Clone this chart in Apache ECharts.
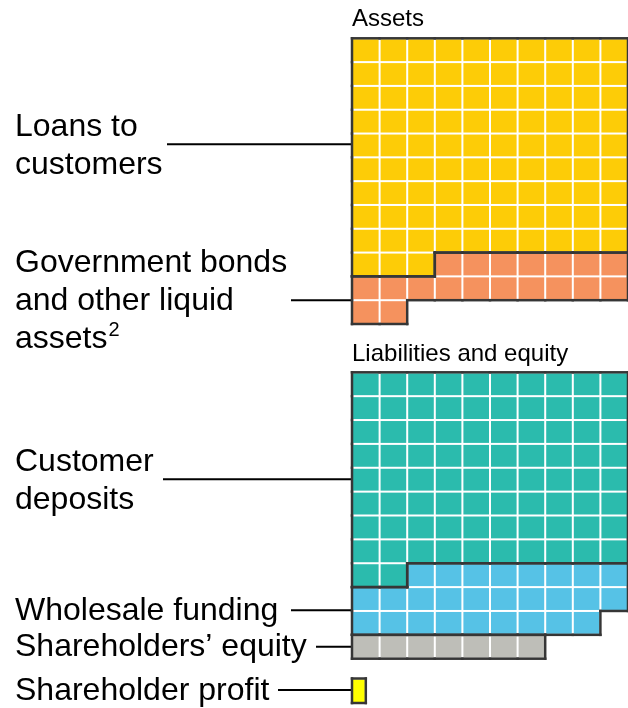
<!DOCTYPE html>
<html>
<head>
<meta charset="utf-8">
<script src="https://cdn.jsdelivr.net/npm/echarts@6/dist/echarts.min.js"></script>
<style>
  html, body { margin: 0; padding: 0; background: #fff; }
  #chart { width: 628px; height: 708px; }
</style>
</head>
<body>
<div id="chart"></div>
<script>
// one cell = one unit, grid is 10 cells wide
const columns = 10
const assetLabels = ['Loans to\ncustomers', 'Government bonds\nand other liquid\nassets{s|2}']
const assetCells = [93, 19]
const fundingLabels = ['Customer\ndeposits', 'Wholesale funding']
const fundingCells = [82, 27]
const equityLabels = ['Shareholders’ equity']
const equityCells = [7]
const profitLabels = ['Shareholder profit']
const profitCells = [0.5]

const assetColors = ['#fdcc07', '#f5925e']
const liabColors = ['#2bbbad', '#56c2e6', '#bebeb8']
const profitColors = ['#ffff00']

const FONT = '"Liberation Sans", Arial, sans-serif'
const EDGE = '#363636'

// fill cells row by row, starting from index `start`
function layoutCells(counts, groupOffset, start) {
  const out = []
  let idx = start
  counts.forEach((n, g) => {
    let left = n
    while (left > 0) {
      const w = Math.min(1, left)
      out.push([idx % columns, Math.floor(idx / columns), g + groupOffset, w])
      idx++
      left -= 1
    }
  })
  return out
}

const assetData = layoutCells(assetCells, 0, 0)
const fundingTotal = fundingCells.reduce((a, b) => a + b, 0)
const liabData = layoutCells(fundingCells, 0, 0)
  .concat(layoutCells(equityCells, fundingCells.length, Math.ceil(fundingTotal / columns) * columns))
const profitData = layoutCells(profitCells, 0, 0)

function cellSeries(data, colors, gridIndex) {
  const owner = {}
  data.forEach((d) => { owner[d[0] + ',' + d[1]] = d[2] })
  const same = (c, r, g) => owner[c + ',' + r] === g

  return {
    type: 'custom',
    coordinateSystem: 'cartesian2d',
    xAxisIndex: gridIndex,
    yAxisIndex: gridIndex,
    silent: true,
    encode: { x: 0, y: 1 },
    data: data,
    renderItem: (params, api) => {
      const col = api.value(0)
      const row = api.value(1)
      const g = api.value(2)
      const w = api.value(3)
      const p0 = api.coord([col, row])
      const p1 = api.coord([col + w, row + 1])
      const x0 = p0[0], y0 = p0[1], x1 = p1[0], y1 = p1[1]
      const children = [{
        type: 'rect',
        shape: { x: x0 + 1, y: y0 + 1, width: x1 - x0 - 2, height: y1 - y0 - 2 },
        style: { fill: colors[g] }
      }]
      const edge = (ax, ay, bx, by) => children.push({
        type: 'line',
        z2: 10,
        shape: { x1: ax, y1: ay, x2: bx, y2: by },
        style: { stroke: EDGE, lineWidth: 2.5, lineCap: 'square' }
      })
      if (!same(col, row - 1, g)) edge(x0, y0, x1, y0)
      if (!same(col, row + 1, g) || w < 1) edge(x0, y1, x1, y1)
      if (!same(col - 1, row, g)) edge(x0, y0, x0, y1)
      if (!same(col + 1, row, g) || w < 1) edge(x1, y0, x1, y1)
      return { type: 'group', children: children }
    }
  }
}

function label(text, y) {
  return {
    type: 'text', x: 15, y: y,
    style: {
      text: text, font: '32px ' + FONT, fill: '#000', lineHeight: 38, verticalAlign: 'middle',
      rich: {
        s: { fontSize: 20, fontFamily: FONT, fill: '#000', lineHeight: 38, verticalAlign: 'top', padding: [0, 0, 14, 1] }
      }
    }
  }
}
function leader(x, y) {
  return {
    type: 'line',
    shape: { x1: x, y1: y, x2: 352, y2: y },
    style: { stroke: '#000', lineWidth: 2 }
  }
}
function title(text, y) {
  return {
    type: 'text', x: 352, y: y,
    style: { text: text, font: '24px ' + FONT, fill: '#000', verticalAlign: 'middle' }
  }
}

const chart = echarts.init(document.getElementById('chart'))

chart.setOption({
  animation: false,
  backgroundColor: '#fff',
  grid: [
    { left: 352, top: 38.3, width: 279.5, height: 285.7 },
    { left: 352, top: 372.3, width: 279.5, height: 286.4 },
    { left: 352, top: 678.5, width: 279.5, height: 24.5 }
  ],
  xAxis: [0, 1, 2].map((i) => ({ type: 'value', gridIndex: i, min: 0, max: columns, show: false })),
  yAxis: [
    { type: 'value', gridIndex: 0, min: 0, max: 12, inverse: true, show: false },
    { type: 'value', gridIndex: 1, min: 0, max: 12, inverse: true, show: false },
    { type: 'value', gridIndex: 2, min: 0, max: 1, inverse: true, show: false }
  ],
  series: [
    cellSeries(assetData, assetColors, 0),
    cellSeries(liabData, liabColors, 1),
    cellSeries(profitData, profitColors, 2)
  ],
  graphic: [
    title('Assets', 19.5),
    title('Liabilities and equity', 354),
    leader(167, 144.3), label(assetLabels[0], 146),
    leader(291, 300.3), label(assetLabels[1], 301),
    leader(163, 479.3), label(fundingLabels[0], 481),
    leader(291, 610.3), label(fundingLabels[1], 611),
    leader(316, 646.7), label(equityLabels[0], 647.5),
    leader(278, 690), label(profitLabels[0], 691.5)
  ]
})
</script>
</body>
</html>
